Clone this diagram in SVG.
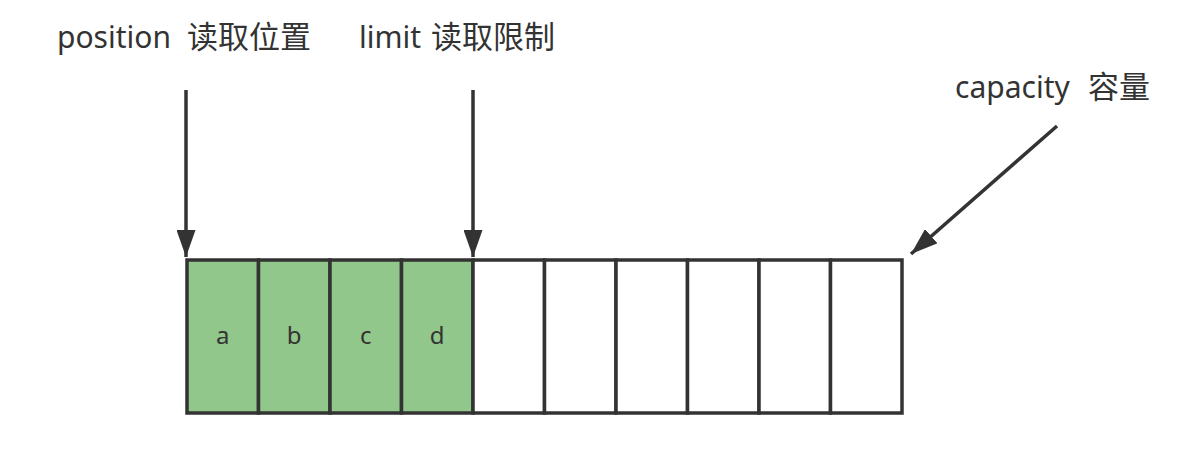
<svg xmlns="http://www.w3.org/2000/svg" width="1204" height="454" viewBox="0 0 1204 454">
<style>
.lbl{font-family:"Noto Sans","Noto Sans CJK SC",sans-serif;font-size:30px;fill:#333}
.cjk{font-size:31px}
.cell{stroke:#333;stroke-width:3.5}
.full{fill:#92c78b}
.empty{fill:#fff}
.ch{font-family:"Noto Sans",sans-serif;font-size:24px;fill:#333;text-anchor:middle}
.conn{stroke:#333;stroke-width:3.5;fill:none}
</style>
<defs>
<marker id="ah" markerUnits="userSpaceOnUse" markerWidth="27" markerHeight="19" viewBox="0 0 27 19" refX="27" refY="9.5" orient="auto">
<path d="M0,0 L27,9.5 L0,19 Z" fill="#333"/>
</marker>
</defs>
<rect width="1204" height="454" fill="#fff"/>
<g id="cells">
<g id="cell-a"><rect class="cell full" x="187" y="260" width="71.5" height="153"/><text class="ch" x="222.7" y="344">a</text></g>
<g id="cell-b"><rect class="cell full" x="258.5" y="260" width="71.5" height="153"/><text class="ch" x="294.2" y="344">b</text></g>
<g id="cell-c"><rect class="cell full" x="330" y="260" width="71.5" height="153"/><text class="ch" x="365.7" y="344">c</text></g>
<g id="cell-d"><rect class="cell full" x="401.5" y="260" width="71.5" height="153"/><text class="ch" x="437.2" y="344">d</text></g>
<g id="cell-5"><rect class="cell empty" x="473" y="260" width="71.5" height="153"/></g>
<g id="cell-6"><rect class="cell empty" x="544.5" y="260" width="71.5" height="153"/></g>
<g id="cell-7"><rect class="cell empty" x="616" y="260" width="71.5" height="153"/></g>
<g id="cell-8"><rect class="cell empty" x="687.5" y="260" width="71.5" height="153"/></g>
<g id="cell-9"><rect class="cell empty" x="759" y="260" width="71.5" height="153"/></g>
<g id="cell-10"><rect class="cell empty" x="830.5" y="260" width="71.5" height="153"/></g>
</g>
<g id="label-position"><text class="lbl" x="57" y="48">position <tspan class="cjk" x="187">读取位置</tspan></text></g>
<g id="label-limit"><text class="lbl" x="359" y="48">limit <tspan class="cjk" x="431">读取限制</tspan></text></g>
<g id="label-capacity"><text class="lbl" x="955" y="98">capacity <tspan class="cjk" x="1088">容量</tspan></text></g>
<g id="connectors">
<line class="conn" x1="186" y1="90" x2="186" y2="257" marker-end="url(#ah)"/>
<line class="conn" x1="473" y1="90" x2="473" y2="257" marker-end="url(#ah)"/>
<line class="conn" x1="1057" y1="126" x2="911" y2="254" marker-end="url(#ah)"/>
</g>
</svg>
